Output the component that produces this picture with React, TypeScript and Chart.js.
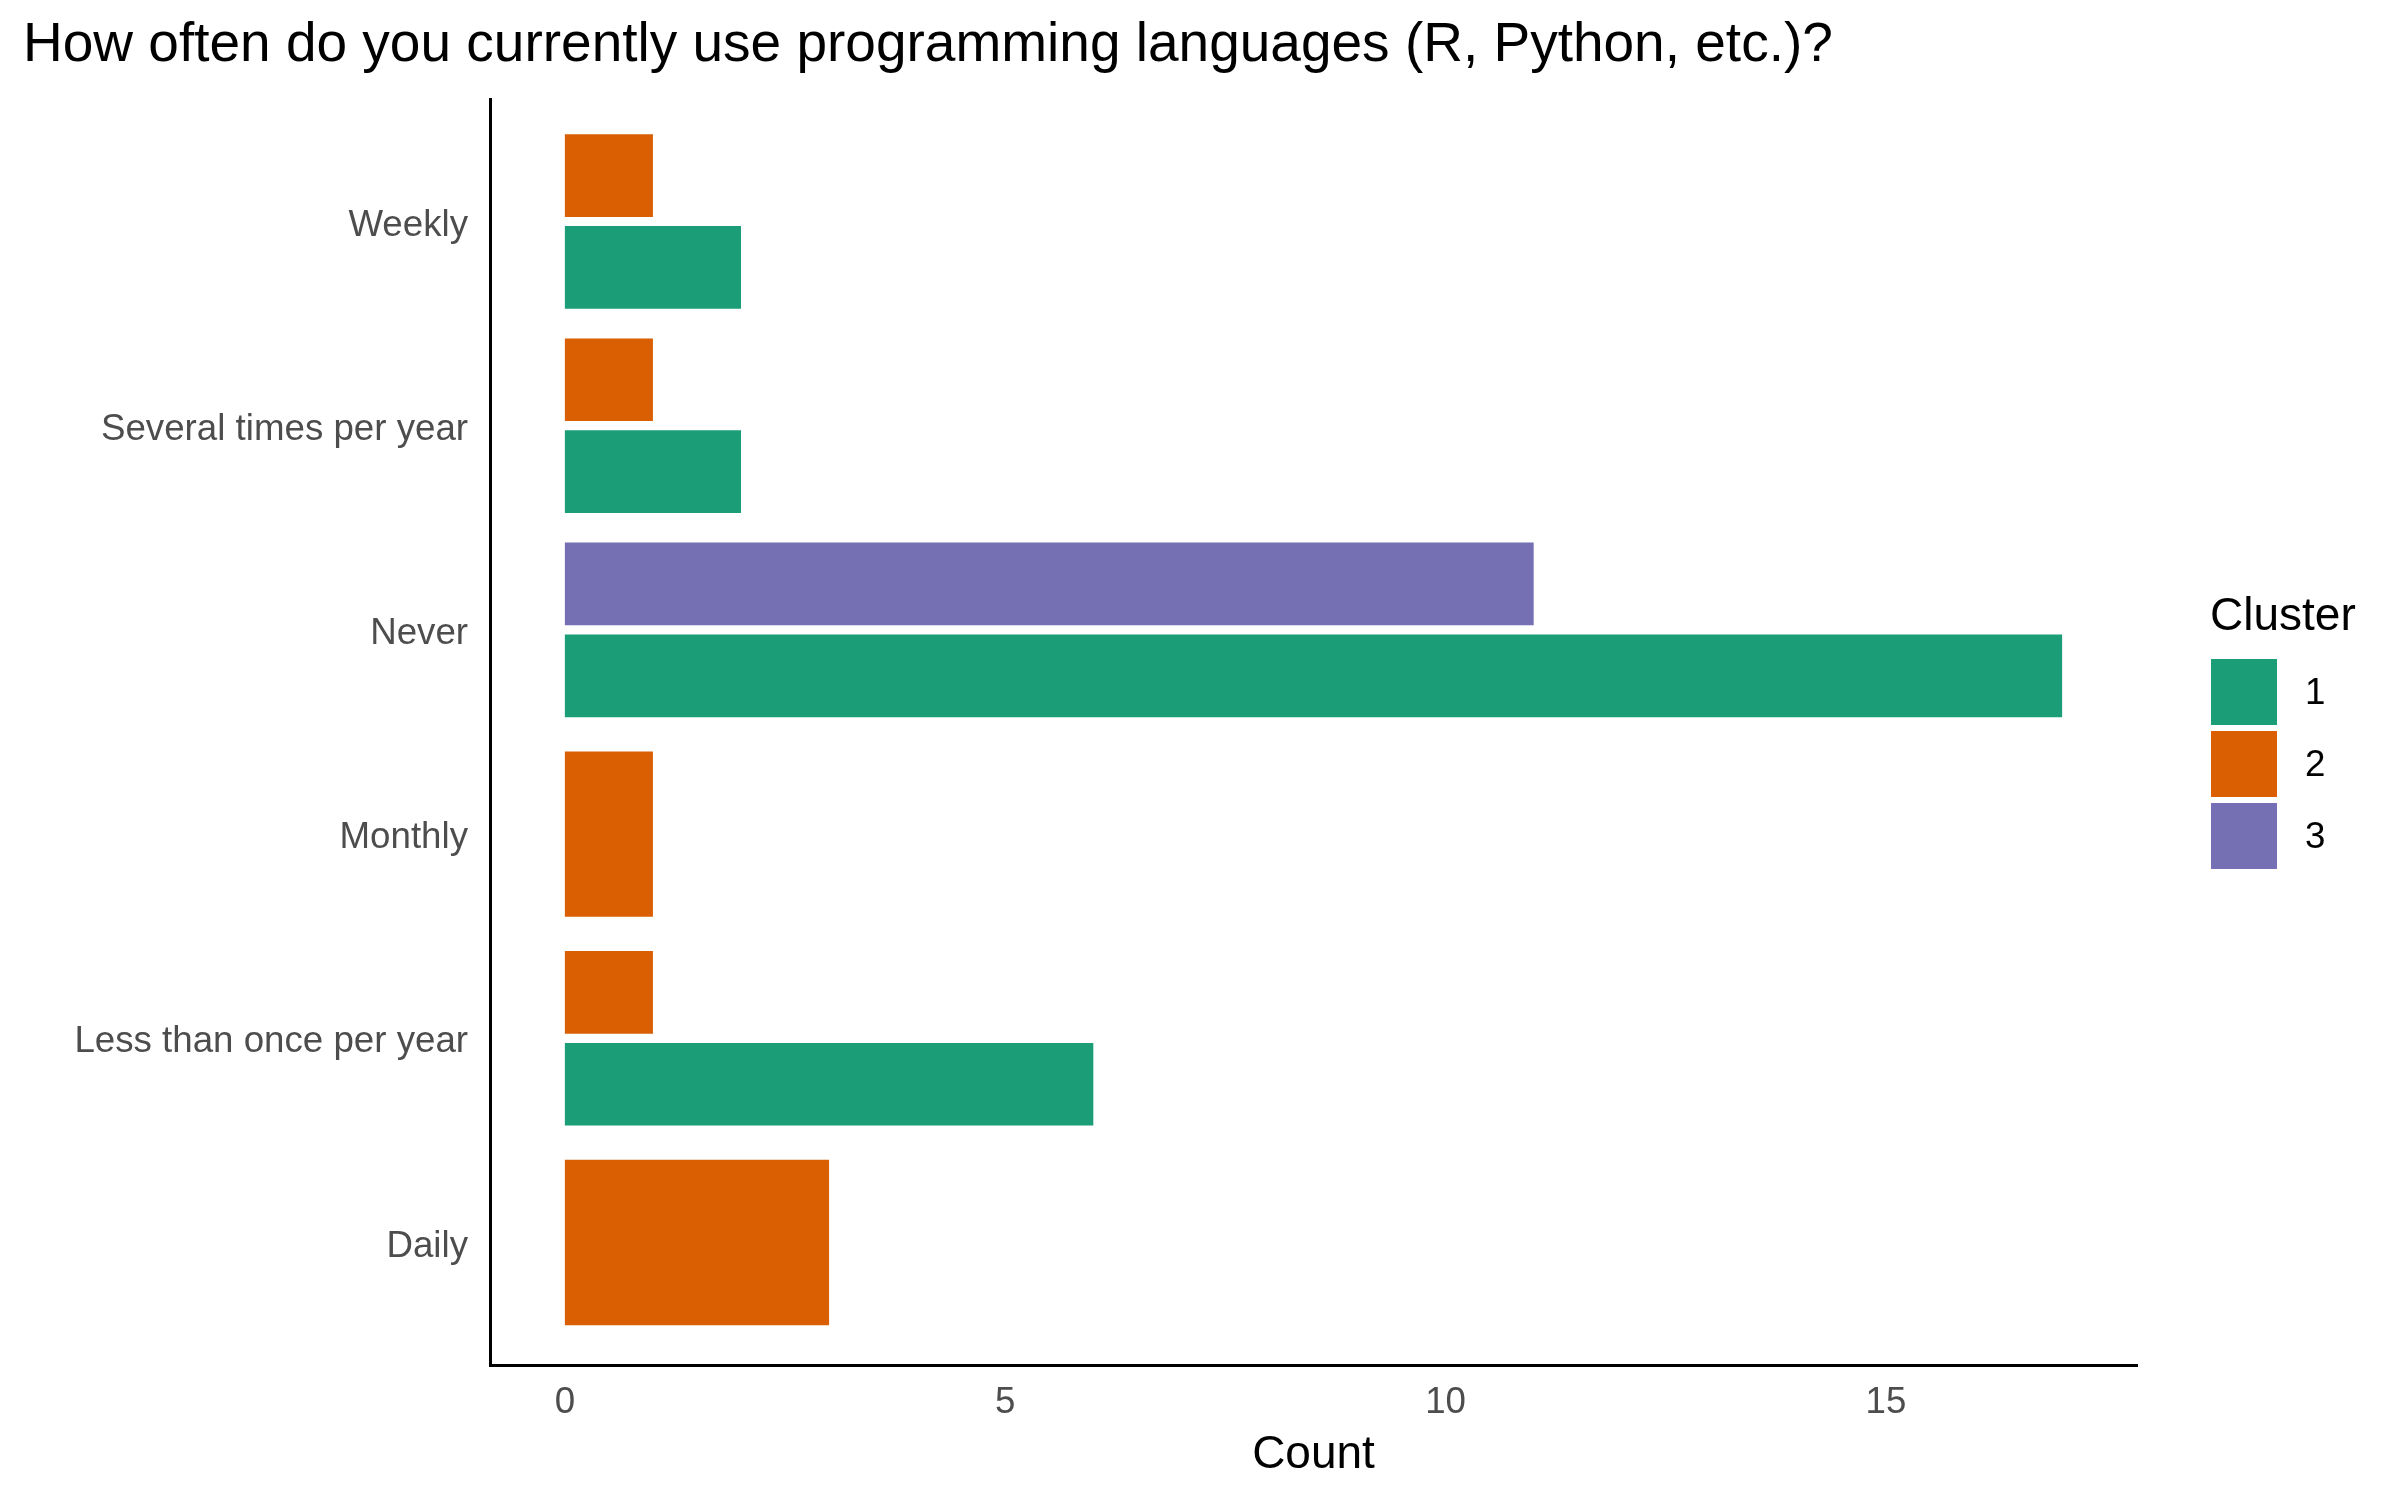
import React, { useEffect, useRef } from "react";
import { Chart, registerables } from "chart.js";

Chart.register(...registerables);

const titleText = "How often do you currently use programming languages (R, Python, etc.)?";
const categories = [
  "Weekly",
  "Several times per year",
  "Never",
  "Monthly",
  "Less than once per year",
  "Daily",
];
const clusterNames = ["1", "2", "3"];
const cluster1 = [2, 2, 17, null, 6, null];
const cluster2 = [1, 1, null, 1, 1, 3];
const cluster3 = [null, null, 11, null, null, null];
const clusterColors = ["#1B9E77", "#D95F02", "#7570B3"];
const countTicks = [0, 5, 10, 15];
const xTitle = "Count";
const legendTitle = "Cluster";

const FONT = "'Liberation Sans', Arial, Helvetica, sans-serif";

export default function App() {
  const canvasRef = useRef<HTMLCanvasElement | null>(null);

  useEffect(() => {
    const canvas = canvasRef.current;
    if (!canvas) return;
    const series = [cluster1, cluster2, cluster3];
    // drawn top-to-bottom inside each category: 3, 2, 1
    const order = [2, 1, 0];
    const datasets = order.map((i) => ({
      label: clusterNames[i],
      data: series[i],
      backgroundColor: clusterColors[i],
      borderWidth: 0,
      skipNull: true,
      categoryPercentage: 0.9,
      barPercentage: 0.9,
    }));

    const chart = new Chart(canvas, {
      type: "bar",
      data: { labels: categories, datasets },
      options: {
        indexAxis: "y",
        responsive: false,
        animation: false,
        devicePixelRatio: 1,
        layout: { padding: { left: 23, right: 263, top: 0, bottom: 0 } },
        plugins: {
          legend: { display: false },
          tooltip: { enabled: false },
          title: {
            display: true,
            text: titleText,
            align: "start",
            color: "#000000",
            font: { family: FONT, size: 55, weight: "normal", lineHeight: 1.2 },
            padding: { top: 13, bottom: 20 },
          },
        },
        scales: {
          x: {
            type: "linear",
            min: -0.85,
            max: 17.85,
            grid: { display: false, drawTicks: false },
            border: { display: true, color: "#000000", width: 3 },
            afterBuildTicks: (scale: any) => {
              scale.ticks = countTicks.map((v) => ({ value: v }));
            },
            afterFit: (scale: any) => {
              scale.height = 135;
            },
            ticks: {
              color: "#4D4D4D",
              font: { family: FONT, size: 36.7 },
              padding: 16,
              maxRotation: 0,
              autoSkip: false,
            },
            title: {
              display: true,
              text: xTitle,
              color: "#000000",
              font: { family: FONT, size: 46, lineHeight: 1.2 },
              padding: { top: 0, bottom: 17 },
            },
          },
          y: {
            type: "category",
            grid: { display: false, drawTicks: false },
            border: { display: true, color: "#000000", width: 3 },
            afterBuildTicks: (scale: any) => {
              // ggplot-style discrete expansion of 0.6 on each side
              scale._startValue = -0.6;
              scale._valueRange = categories.length - 1 + 1.2;
            },
            afterFit: (scale: any) => {
              scale.width = 467;
            },
            ticks: {
              color: "#4D4D4D",
              font: { family: FONT, size: 36.7 },
              padding: 22,
              labelOffset: 4,
              autoSkip: false,
            },
          },
        },
      },
    });
    return () => chart.destroy();
  }, []);

  const keyTops = [659, 731, 803];

  return (
    <div
      style={{
        position: "absolute",
        left: 0,
        top: 0,
        width: 2400,
        height: 1500,
        background: "#ffffff",
        overflow: "hidden",
      }}
    >
      <canvas
        ref={canvasRef}
        width={2400}
        height={1500}
        style={{ position: "absolute", left: 0, top: 0, width: 2400, height: 1500 }}
      />
      <div
        style={{
          position: "absolute",
          left: 2210,
          top: 591,
          fontFamily: FONT,
          fontSize: 46,
          lineHeight: "46px",
          color: "#000000",
          whiteSpace: "nowrap",
        }}
      >
        {legendTitle}
      </div>
      {clusterNames.map((name, i) => (
        <div
          key={name}
          style={{
            position: "absolute",
            left: 2211,
            top: keyTops[i],
            height: 66,
            display: "flex",
            alignItems: "center",
            fontFamily: FONT,
            fontSize: 36.7,
            color: "#000000",
          }}
        >
          <div style={{ width: 66, height: 66, background: clusterColors[i] }} />
          <div style={{ marginLeft: 28 }}>{name}</div>
        </div>
      ))}
    </div>
  );
}
